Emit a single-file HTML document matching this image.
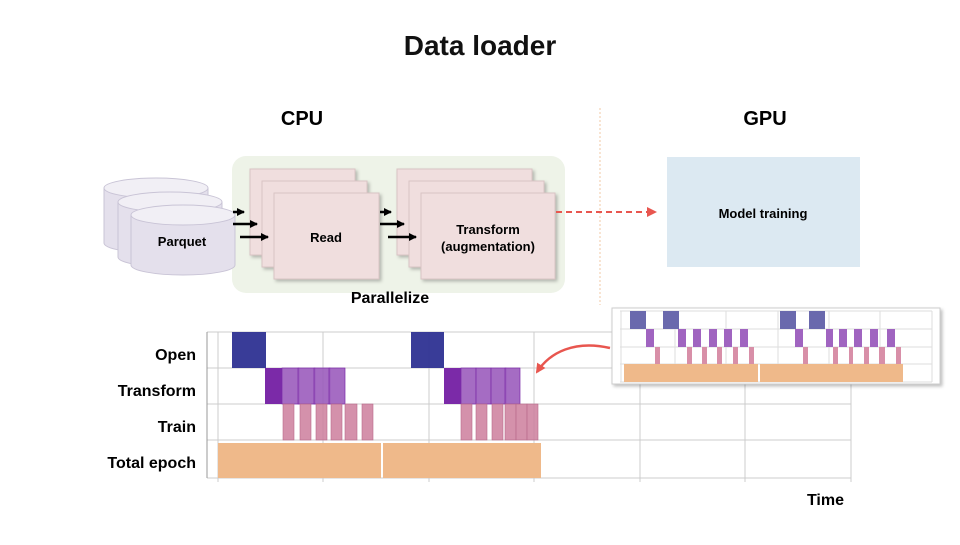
<!DOCTYPE html>
<html><head><style>
body{margin:0;width:960px;height:540px;background:#fff;overflow:hidden;font-family:"Liberation Sans","Noto Sans CJK KR",sans-serif}
</style></head><body>
<svg width="960" height="540" xmlns="http://www.w3.org/2000/svg" font-family="Liberation Sans, Noto Sans CJK KR, sans-serif">
<defs>
<filter id="sh" x="-10%" y="-10%" width="130%" height="130%"><feDropShadow dx="2" dy="2" stdDeviation="1.5" flood-color="#000" flood-opacity="0.25"/></filter>
<marker id="ah" markerUnits="userSpaceOnUse" markerWidth="8" markerHeight="8" refX="7" refY="4" orient="auto"><path d="M0,0 L8,4 L0,8 z" fill="#000"/></marker>
<marker id="rh" markerUnits="userSpaceOnUse" markerWidth="10" markerHeight="10" refX="8" refY="5" orient="auto"><path d="M0,0 L10,5 L0,10 z" fill="#e8564f"/></marker>
</defs>
<text x="480" y="55" font-size="28" font-weight="bold" text-anchor="middle" fill="#111">Data loader</text>
<text x="302" y="125" font-size="20" font-weight="bold" text-anchor="middle">CPU</text>
<text x="765" y="125" font-size="20" font-weight="bold" text-anchor="middle">GPU</text>
<line x1="600" y1="108" x2="600" y2="305" stroke="#f2c9a6" stroke-dasharray="2,2"/>
<rect x="232" y="156" width="333" height="137" rx="14" fill="#eef3e8"/>
<g stroke="#c9c4d6" fill="#e4e0ec">
<g><path d="M104,188 v55 a52,10 0 0 0 104,0 v-55" /><ellipse cx="156" cy="188" rx="52" ry="10" fill="#f1eff5"/></g>
<g><path d="M118,202 v55 a52,10 0 0 0 104,0 v-55" /><ellipse cx="170" cy="202" rx="52" ry="10" fill="#f1eff5"/></g>
<g><path d="M131,215 v50 a52,10 0 0 0 104,0 v-50" /><ellipse cx="183" cy="215" rx="52" ry="10" fill="#f1eff5"/></g>
</g>
<text x="182" y="246" font-size="13" font-weight="bold" text-anchor="middle">Parquet</text>
<g fill="#f0dede" stroke="#d9c4c4" filter="url(#sh)">
<rect x="250" y="169" width="105" height="86"/><rect x="262" y="181" width="105" height="86"/><rect x="274" y="193" width="105" height="86"/>
<rect x="397" y="169" width="135" height="86"/><rect x="409" y="181" width="135" height="86"/><rect x="421" y="193" width="134" height="86"/>
</g>
<text x="326" y="242" font-size="13" font-weight="bold" text-anchor="middle">Read</text>
<text x="488" y="234" font-size="13" font-weight="bold" text-anchor="middle">Transform</text>
<text x="488" y="251" font-size="13" font-weight="bold" text-anchor="middle">(augmentation)</text>
<g stroke="#000" stroke-width="2.5" marker-end="url(#ah)">
<line x1="233" y1="212" x2="244" y2="212"/><line x1="233" y1="224" x2="257" y2="224"/><line x1="240" y1="237" x2="268" y2="237"/>
<line x1="380" y1="212" x2="391" y2="212"/><line x1="380" y1="224" x2="404" y2="224"/><line x1="388" y1="237" x2="416" y2="237"/>
</g>
<line x1="556" y1="212" x2="655" y2="212" stroke="#e8564f" stroke-width="2" stroke-dasharray="6,4" marker-end="url(#rh)"/>
<rect x="667" y="157" width="193" height="110" fill="#dce9f2"/>
<text x="763" y="218" font-size="13" font-weight="bold" text-anchor="middle">Model training</text>
<text x="390" y="303" font-size="16" font-weight="bold" text-anchor="middle">Parallelize</text>
<g font-size="16" font-weight="bold" text-anchor="end">
<text x="196" y="360">Open</text><text x="196" y="396">Transform</text><text x="196" y="432">Train</text><text x="196" y="468">Total epoch</text>
</g>
<g stroke="#ccc" stroke-width="1">
<line x1="207" y1="332" x2="851" y2="332"/><line x1="207" y1="368" x2="851" y2="368"/><line x1="207" y1="404" x2="851" y2="404"/><line x1="207" y1="440" x2="851" y2="440"/><line x1="207" y1="478" x2="851" y2="478"/>
<line x1="207" y1="332" x2="207" y2="478" stroke="#999"/>
<line x1="218" y1="332" x2="218" y2="482"/><line x1="323" y1="332" x2="323" y2="482"/><line x1="429" y1="332" x2="429" y2="482"/><line x1="534" y1="332" x2="534" y2="482"/><line x1="640" y1="332" x2="640" y2="482"/><line x1="745" y1="332" x2="745" y2="482"/><line x1="851" y1="332" x2="851" y2="482"/>
</g>
<g fill="#2e3192" fill-opacity="0.95"><rect x="232" y="332" width="34" height="36"/><rect x="411" y="332" width="33" height="36"/></g>
<g fill="#7b2aa8"><rect x="265" y="368" width="17" height="36"/><rect x="444" y="368" width="17" height="36"/></g>
<g fill="#9b5cbd" fill-opacity="0.9" stroke="#7b2aa8" stroke-width="0.7">
<rect x="282" y="368" width="17" height="36"/><rect x="298" y="368" width="17" height="36"/><rect x="314" y="368" width="16" height="36"/><rect x="329" y="368" width="16" height="36"/>
<rect x="461" y="368" width="15" height="36"/><rect x="476" y="368" width="15" height="36"/><rect x="491" y="368" width="15" height="36"/><rect x="505" y="368" width="15" height="36"/>
</g>
<g fill="#cc7e9c" fill-opacity="0.85" stroke="#b86a8a" stroke-width="0.6">
<rect x="283" y="404" width="11" height="36"/><rect x="300" y="404" width="11" height="36"/><rect x="316" y="404" width="11" height="36"/><rect x="331" y="404" width="11" height="36"/><rect x="345" y="404" width="12" height="36"/><rect x="362" y="404" width="11" height="36"/>
<rect x="461" y="404" width="11" height="36"/><rect x="476" y="404" width="11" height="36"/><rect x="492" y="404" width="11" height="36"/><rect x="505" y="404" width="11" height="36"/><rect x="516" y="404" width="11" height="36"/><rect x="527" y="404" width="11" height="36"/>
</g>
<g fill="#efb98a"><rect x="218" y="443" width="163" height="35"/><rect x="383" y="443" width="158" height="35"/></g>
<text x="844" y="505" font-size="16" font-weight="bold" text-anchor="end">Time</text>
<rect x="612" y="308" width="328" height="76" fill="#fff" stroke="#ccc" filter="url(#sh)"/>
<g stroke="#ddd"><line x1="620" y1="311" x2="932" y2="311"/><line x1="620" y1="329" x2="932" y2="329"/><line x1="620" y1="347" x2="932" y2="347"/><line x1="620" y1="364" x2="932" y2="364"/><line x1="620" y1="382" x2="932" y2="382"/>
<line x1="621" y1="311" x2="621" y2="382"/><line x1="675" y1="311" x2="675" y2="382"/><line x1="726" y1="311" x2="726" y2="382"/><line x1="778" y1="311" x2="778" y2="382"/><line x1="829" y1="311" x2="829" y2="382"/><line x1="880" y1="311" x2="880" y2="382"/><line x1="932" y1="311" x2="932" y2="382"/></g>
<g fill="#6a69ad"><rect x="630" y="311" width="16" height="18"/><rect x="663" y="311" width="16" height="18"/><rect x="780" y="311" width="16" height="18"/><rect x="809" y="311" width="16" height="18"/></g>
<g fill="#a064c0"><rect x="646" y="329" width="8" height="18"/><rect x="678" y="329" width="8" height="18"/><rect x="693" y="329" width="8" height="18"/><rect x="709" y="329" width="8" height="18"/><rect x="724" y="329" width="8" height="18"/><rect x="740" y="329" width="8" height="18"/><rect x="795" y="329" width="8" height="18"/><rect x="826" y="329" width="7" height="18"/><rect x="839" y="329" width="8" height="18"/><rect x="854" y="329" width="8" height="18"/><rect x="870" y="329" width="8" height="18"/><rect x="887" y="329" width="8" height="18"/></g>
<g fill="#d88fa8"><rect x="655" y="347" width="5" height="17"/><rect x="687" y="347" width="5" height="17"/><rect x="702" y="347" width="5" height="17"/><rect x="717" y="347" width="5" height="17"/><rect x="733" y="347" width="5" height="17"/><rect x="749" y="347" width="5" height="17"/><rect x="803" y="347" width="5" height="17"/><rect x="833" y="347" width="5" height="17"/><rect x="849" y="347" width="4" height="17"/><rect x="864" y="347" width="5" height="17"/><rect x="879" y="347" width="6" height="17"/><rect x="896" y="347" width="5" height="17"/></g>
<g fill="#efb98a"><rect x="624" y="364" width="134" height="18"/><rect x="760" y="364" width="143" height="18"/></g>
<path d="M610,348 C575,340 550,352 537,372" fill="none" stroke="#e8564f" stroke-width="2.5" marker-end="url(#rh)"/>
</svg>
</body></html>
